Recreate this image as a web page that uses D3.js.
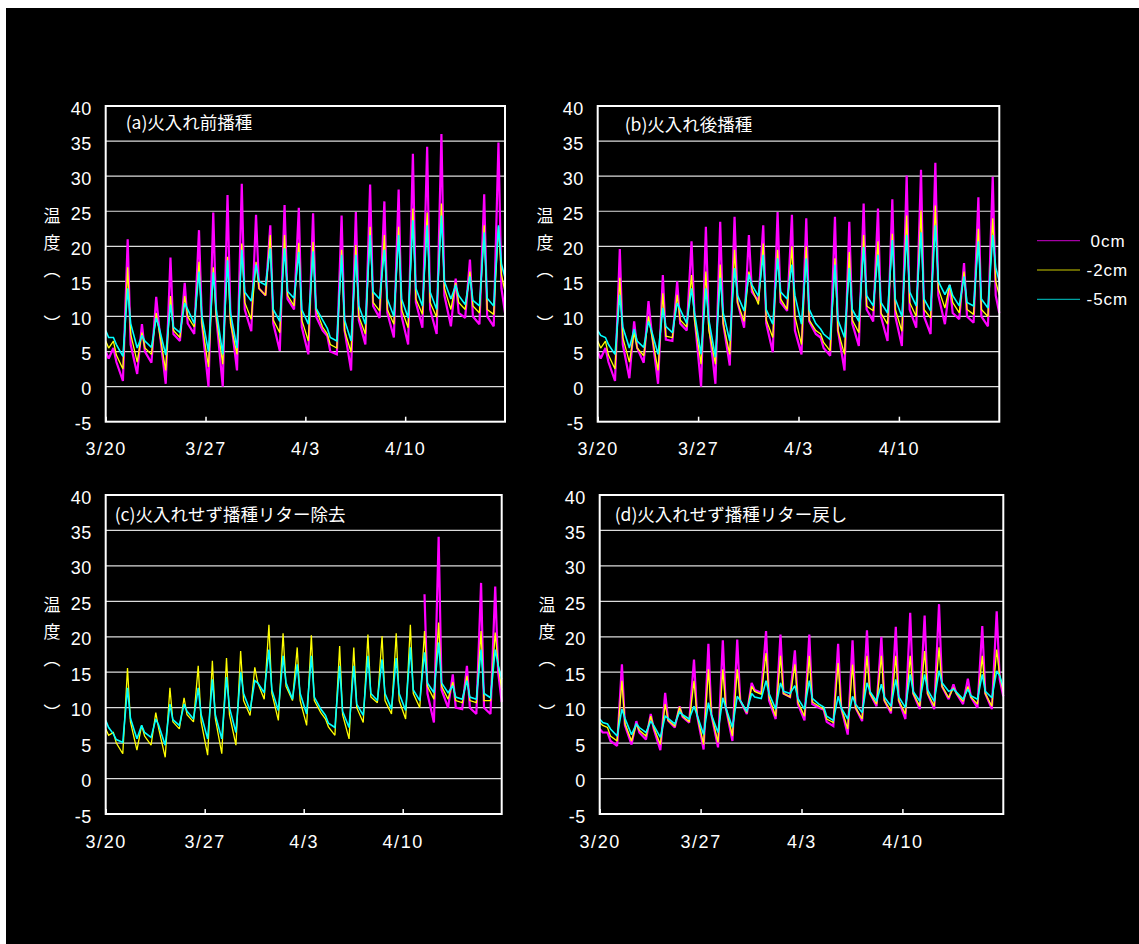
<!DOCTYPE html>
<html><head><meta charset="utf-8">
<script src="https://cdn.jsdelivr.net/npm/d3@7"></script>
<style>
body{margin:0;background:#fff;}
svg{display:block;}
</style>
</head><body>
<svg id="chart" width="1139" height="944"></svg>
<script>
// ---- data: sample hours of each day (dawn, noon peak, evening), values in degC ----
const slotHours = [5, 13, 18];
const startValueHour = 0, endValueHour = 672;
const tickLabels = ["3/20", "3/27", "4/3", "4/10"];
const tickDays = [0, 7, 14, 21];
const yTicks = [-5, 0, 5, 10, 15, 20, 25, 30, 35, 40];
const seriesNames = ["0cm", "-2cm", "-5cm"];
const seriesColors = ["#ff00ff", "#ffff00", "#00ffff"];
const panelTitles = ["(a)火入れ前播種", "(b)火入れ後播種", "(c)火入れせず播種リター除去", "(d)火入れせず播種リター戻し"];

const a0cm = [5,
4,5.5,3.5, 0.8,21,6, 1.8,8.9,5, 3.4,12.8,8.4, 0.4,18.4,7.5, 6.5,14.8,9, 7.5,22.3,9,
0,24.8,10, 0,27.3,10, 2.3,28.9,11, 7.9,24.5,14, 13,23,9, 5.1,25.9,12.5, 11,25.5,8.5,
4.6,24.7,10, 8,7.2,5, 4.6,24.4,8, 2.3,24.9,9.5, 6,28.8,11.5, 9.8,26.4,10.5, 7,28.1,10,
6,33.2,12, 8.4,34.2,11, 7.5,36,13, 8.6,15.4,10.5, 9.8,18.1,10, 8.9,27.4,10, 8.6,34.8,14,
10.5];
const a2cm = [6.5,
5.5,6.5,4.5, 2.5,17,7.5, 3.5,7.7,5.5, 4.6,10.5,7.9, 2.3,12.9,8, 7,12.9,10, 8.5,17.8,9,
2.8,17,10, 3.2,18.5,9, 4.6,20.4,12, 9.6,17.8,14, 13,21.6,9.5, 7.7,21.6,13, 11.5,20.5,9.5,
6.5,20.6,11, 8.5,7.5,6, 5.5,19.5,8, 4.9,20.2,10, 7.5,22.8,12, 10.8,21.6,11, 8.9,22.8,11,
8.4,25.4,12.5, 10.3,24.8,12, 9.9,26.1,14, 11,14.8,12, 11,16.4,11.5, 10.5,23,11, 10.3,22.8,16,
13.5];
const a5cm = [8,
7,7,6, 4.3,14,9, 5.5,7.3,6.5, 5.6,9.8,8.4, 4.5,11.7,8.5, 7.7,11.9,11, 9,16.4,10,
5,16.3,11, 4.6,18,10.5, 5.5,19.5,13.5, 12.2,17.4,15, 14.5,19.7,11, 9.3,19.7,13.6, 12.6,19.2,11,
8.9,19.3,11.2, 9.5,8.3,7, 6.5,18.8,9.5, 6.5,18.8,11.5, 8.9,21.6,13.5, 12.5,19.5,12.5, 10,21.6,12.5,
9.8,23.7,14, 11.5,23,13.5, 11,24.4,15, 12.5,14.5,13, 11.7,15.7,12.3, 11.5,22,12.6, 11.5,23,17.5,
15.5];

const b0cm = [5,
4,5.5,3.5, 0.8,19.6,6, 1.2,9.3,5.5, 3.4,12.2,8, 0.4,15.9,6.7, 6.5,15,9, 8,20.7,10,
0,22.8,9, 0.4,23.5,9, 3,24.2,12, 8.4,21.6,13.5, 12.2,23,9, 4.9,24.9,12, 10.8,24.5,8,
4.6,24,9.3, 7.5,7,5.5, 4.4,24.2,8, 2.3,23.5,9, 5.8,26.1,11, 9.3,25.4,10, 6.5,26.7,10,
5.8,30.1,11, 8.4,30.9,10, 7.5,31.9,13, 8.9,14.5,10.5, 9.6,17.6,10, 9.1,27,10, 8.6,29.9,13,
10.5];
const b2cm = [6.5,
5.5,6.5,4.5, 2.5,15.5,7, 3.5,7.7,5.5, 4.4,10,7.5, 2.3,13.3,7.2, 7,13.1,9.5, 8.5,15.9,9.5,
3.2,16.4,8, 3.2,17.4,9, 4.6,19.5,12, 9.3,16.4,14, 11.7,20.4,9.5, 7,19.5,12.5, 11,20,10,
6,20,9.5, 8,7.5,6.3, 5.1,18.3,8, 4.6,19.2,9.5, 7.7,21.6,11.5, 10.8,20.7,10.5, 8.9,21.8,11,
7.9,24.4,12, 10,25.1,11, 9.8,25.8,14, 11.2,14.5,12, 10.5,16.4,11, 10.3,22.5,11, 10,24,15,
13];
const b5cm = [8,
7.3,7,6, 4.6,13.1,8.5, 5.5,8.2,6.5, 5.6,9.3,8, 4.6,11.2,8.6, 7.7,11.9,11, 9,14,10.5,
4.6,14,9.5, 4.2,15.5,10.5, 6.5,16.9,13, 10.8,16,14.5, 12.9,18.8,11, 8.9,18.3,13.5, 12.5,17.4,13,
8.9,18.3,11, 9,8.2,7.5, 6.7,17.4,9.5, 7,16.9,11, 9.3,19.9,13, 11.5,18.8,12, 10.5,20.9,12.5,
10,21.6,13.5, 11.5,22,12.5, 10.8,23,15, 13.1,14.5,13, 11.5,15.7,12, 11.5,20.7,12.5, 11.2,21.6,17,
15];

// 0cm sensor in (c) has no record before 4/11 (missing values)
const c0cm = Array(68).fill(null).concat([26,12,
7.9,34.1,12.5, 10,14.7,10, 9.8,15.9,10, 9.1,27.6,10, 9.1,27.1,15,
10.8]);
const c2cm = [7,
6.1,6.5,5, 3.5,15.6,8, 4,7.5,6, 4.7,9.3,7, 3,12.8,8, 7,11.4,9, 8,15.9,8,
3.3,16.6,8.5, 3.5,17,9, 4.7,18,11, 8.9,15.7,13.5, 11.2,21.7,12, 8.2,20.5,13, 11,18.5,11,
7.5,20.2,11, 9.3,8.4,7.3, 6.1,18.7,9, 5.6,18.5,10, 7.9,20.3,11.5, 10.7,20.1,11, 9.1,20.5,11,
8.4,21.7,12, 10,20.8,13, 11.2,22,13, 11.2,13.6,11, 10.7,14.5,11, 10.7,20.8,11, 11,20.6,16,
12.5];
const c5cm = [8.2,
7.2,6.3,5.5, 5.1,12.8,8.5, 5.6,7.5,6.5, 5.8,8.4,7.5, 4.7,10.5,8.3, 7.5,10.5,9.5, 8.4,12.8,9,
5.6,14,9, 5.6,14.3,10, 6.5,15,12, 9.6,13.8,13.5, 12.1,18.2,12.5, 9.6,17.3,13.5, 11.2,16.1,12,
9.1,17.3,11.5, 9.8,8.9,7.8, 7.2,15.9,9.5, 7.2,15.9,10.5, 8.9,17.3,12, 11,16.8,12, 9.8,17,12,
9.6,18.5,12.5, 11,17.8,13.5, 12.1,19.2,13.5, 12.1,13.1,11.5, 11.2,13.8,11.5, 11.2,18.2,12, 11.4,18.2,16,
14];

const d0cm = [7,
6.5,6.5,5.3, 4.6,16.1,7.5, 4.8,8.1,6.5, 5.5,9.1,7, 4,12.1,8.2, 7.2,10.2,8.7, 7.9,16.8,9,
4.1,19,9, 4.4,19.5,10, 5.3,19.6,11, 9.1,13.5,12.5, 12.1,20.8,11, 8.4,20.3,12, 11.5,18.1,10.5,
8.2,20.3,10.5, 10,9.7,8, 7.4,19,10, 6.2,19.5,10, 8.1,20.9,12, 10.2,20,11, 9.2,21.4,11,
8.4,23.4,12, 9.8,23,12, 9.8,24.6,13, 11.2,13.3,12, 10.5,14.1,11.5, 10,21.5,12, 9.8,23.6,14,
11.6];
const d2cm = [7.9,
7.5,7.2,6, 5.3,13.8,7.8, 5.3,7.7,6.8, 6,8.8,7.2, 4.8,10.5,8.2, 7.4,10.1,8.8, 8,13.8,9,
4.8,15.4,9, 5.1,15.4,10, 6,15.4,11, 9.3,13,12.3, 11.9,17.7,11.5, 8.8,17.3,12, 11.5,16.1,10.8,
8.8,17.3,10.8, 10.2,9.8,8.4, 7.9,16.3,10, 7,16.1,10, 8.4,17.3,12, 10.5,17.3,11, 9.5,17.3,11,
9.1,17.3,12, 10.2,18,12, 10.2,18.5,13, 11.4,12.8,12, 10.9,13,11.5, 10.5,17.3,12, 10.2,18.2,14.5,
12.3];
const d5cm = [8.4,
7.9,7.7,7, 6,9.8,8.5, 6.2,7.7,7.2, 6.5,8.1,7.5, 5.8,8.8,8.5, 7.7,9.4,9, 8.4,10.2,9,
6.2,10.7,9, 6.5,11.4,10, 7.2,11.6,11, 9.5,12,11.5, 11.3,13.8,12, 9.8,13.5,12.3, 12,13.1,11.3,
9.8,13.8,11.3, 10.5,10.1,8.8, 8.2,11.6,10, 8.4,11.6,10.5, 9.3,13.5,12.3, 10.9,13.3,11.5, 10.2,14,11.5,
10,14.7,12.3, 10.9,14.7,12.5, 10.9,15.2,13.5, 12.3,12.6,12.2, 11.2,12.6,11.7, 11.2,14.7,12.3, 11.4,15.2,14.5,
12.9];

// ---- build ----
const t0 = Date.UTC(2003, 2, 20);
const hours = [startValueHour];
for (let d = 0; d < 28; d++) slotHours.forEach(h => hours.push(d * 24 + h));
hours.push(endValueHour);
const toDate = h => new Date(t0 + h * 3600000);
const asPoints = vals => vals.map((v, i) => ({t: toDate(hours[i]), v}));

const panels = [
  {title: panelTitles[0], series: [a0cm, a2cm, a5cm], x0: 105.7, x1: 505,   y0: 106, y1: 421.7, titleDx: 20, titleBase: 129, yLabX: 52},
  {title: panelTitles[1], series: [b0cm, b2cm, b5cm], x0: 597.7, x1: 999.3, y0: 106, y1: 421.7, titleDx: 27, titleBase: 131, yLabX: 545},
  {title: panelTitles[2], series: [c0cm, c2cm, c5cm], x0: 105.7, x1: 501.7, y0: 495, y1: 814,   titleDx: 9,  titleBase: 521, yLabX: 52},
  {title: panelTitles[3], series: [d0cm, d2cm, d5cm], x0: 599.7, x1: 1003.3, y0: 495, y1: 814,  titleDx: 15, titleBase: 521, yLabX: 547}
];

const svg = d3.select("#chart");
svg.append("rect").attr("x", 6).attr("y", 8).attr("width", 1133).attr("height", 936).attr("fill", "#000");

const numFont = "'Liberation Sans', Arial, sans-serif";
const cjkFont = "'Noto Sans CJK JP', 'Noto Sans', sans-serif";
const strokeW = [2.2, 1.3, 1.6];

panels.forEach(p => {
  const x = d3.scaleUtc().domain([toDate(0), toDate(672)]).range([p.x0, p.x1]);
  const y = d3.scaleLinear().domain([-5, 40]).range([p.y1, p.y0]);
  const g = svg.append("g");

  // gridlines
  g.selectAll("line.grid").data(yTicks.filter(v => v > -5 && v < 40)).enter().append("line")
    .attr("x1", p.x0).attr("x2", p.x1).attr("y1", d => y(d)).attr("y2", d => y(d))
    .attr("stroke", "#dcdcdc").attr("stroke-width", 1.2);

  // series
  const line = d3.line().defined(d => d.v !== null).x(d => x(d.t)).y(d => y(d.v));
  p.series.forEach((vals, i) => {
    g.append("path").datum(asPoints(vals)).attr("d", line)
      .attr("fill", "none").attr("stroke", seriesColors[i])
      .attr("stroke-width", strokeW[i]).attr("stroke-linejoin", "miter").attr("stroke-miterlimit", 2);
  });

  // frame
  g.append("rect").attr("x", p.x0).attr("y", p.y0).attr("width", p.x1 - p.x0).attr("height", p.y1 - p.y0)
    .attr("fill", "none").attr("stroke", "#fff").attr("stroke-width", 2);

  // x axis
  const xAxis = d3.axisBottom(x).tickValues(tickDays.map(d => toDate(d * 24)))
    .tickSizeInner(-5).tickSizeOuter(0).tickPadding(24)
    .tickFormat((d, i) => tickLabels[i]);
  const xa = g.append("g").attr("transform", `translate(0,${p.y1})`).call(xAxis);
  xa.select(".domain").remove();
  xa.selectAll(".tick line").attr("stroke", "#fff").attr("stroke-width", 1.5);
  xa.selectAll(".tick text").attr("fill", "#fff").attr("font-family", numFont)
    .attr("font-size", 18).attr("letter-spacing", "1.6px").attr("dy", "0.71em")
    .attr("y", 21);

  // y axis (plain hyphen for negatives, as in the original)
  const yAxis = d3.axisLeft(y).tickValues(yTicks).tickSize(0).tickPadding(14)
    .tickFormat(d => String(d));
  const ya = g.append("g").attr("transform", `translate(${p.x0},0)`).call(yAxis);
  ya.select(".domain").remove();
  ya.selectAll(".tick text").attr("fill", "#fff").attr("font-family", numFont)
    .attr("font-size", 18).attr("dy", "0.45em").attr("letter-spacing", "0.5px");

  // title
  g.append("text").attr("x", p.x0 + p.titleDx).attr("y", p.titleBase)
    .attr("fill", "#fff").attr("font-family", cjkFont).attr("font-size", 17.5).text(p.title);

  // vertical y-axis title 温度(℃)
  const yTitle = ["温", "度", "︵", "", "︶"];
  g.selectAll("text.ytitle").data(yTitle).enter().append("text")
    .attr("x", p.yLabX).attr("y", (d, i) => p.y0 + 108 + i * 27)
    .attr("text-anchor", "middle").attr("dominant-baseline", "central")
    .attr("fill", "#fff").attr("font-family", cjkFont).attr("font-size", 17).text(d => d);
});

// legend
const legY = [240.7, 270, 299.3];
const lg = svg.append("g");
seriesNames.forEach((name, i) => {
  lg.append("line").attr("x1", 1037).attr("x2", 1080).attr("y1", legY[i]).attr("y2", legY[i])
    .attr("stroke", seriesColors[i]).attr("stroke-width", 1).attr("stroke-opacity", 0.8);
  lg.append("text").attr("x", i === 0 ? 1090.5 : 1086.5).attr("y", legY[i]).attr("dy", "0.36em")
    .attr("fill", "#fff").attr("font-family", numFont).attr("font-size", 17)
    .attr("letter-spacing", "1px").text(name);
});
</script>
</body></html>
